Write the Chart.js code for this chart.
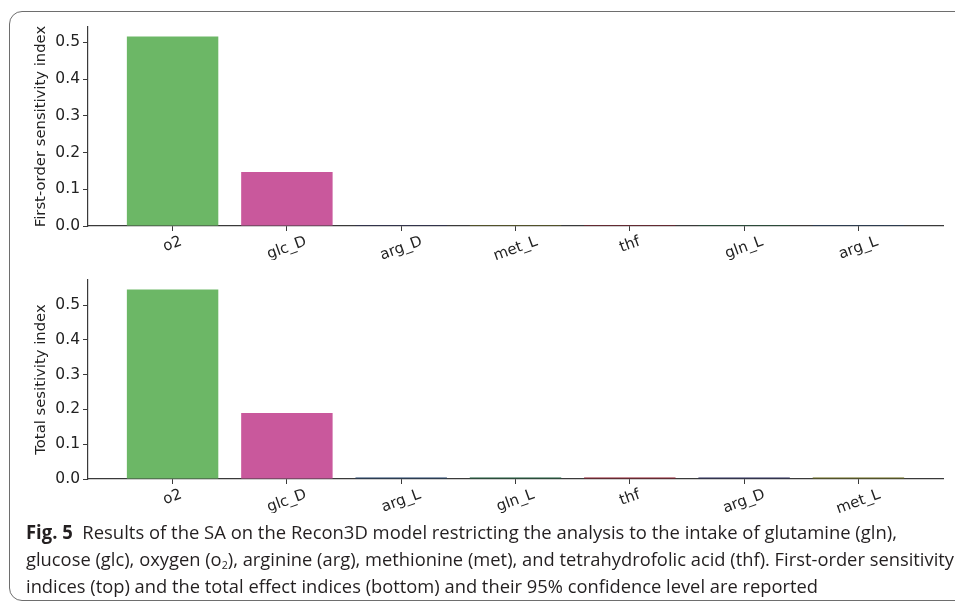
<!DOCTYPE html>
<html>
<head>
<meta charset="utf-8">
<script src="https://cdn.jsdelivr.net/npm/chart.js@4.4.1/dist/chart.umd.min.js"></script>
<style>
  html, body { margin: 0; padding: 0; background: #fff; }
  body { width: 955px; height: 607px; position: relative; overflow: hidden; }
  .frame { position: absolute; left: 9px; top: 11px; width: 980px; height: 590px;
           border: 1px solid #6e6e6e; border-radius: 13px; box-sizing: border-box; }
  .box { position: absolute; left: 0; width: 955px; height: 260px; }
  #top { top: 0; }
  #bottom { top: 253px; }
  .caption { position: absolute; left: 26px; top: 519px; font-family: "Open Sans", sans-serif;
             font-size: 19px; line-height: 27px; color: #231f20; white-space: nowrap; }
  .caption .ln { display: block; transform-origin: 0 0; width: max-content; }
  .caption b { font-weight: 700; }
  .caption sub { font-size: 11px; line-height: 0; vertical-align: -3px; }
</style>
</head>
<body>
<div class="frame"></div>
<div class="box" id="top"><canvas id="firstChart" width="955" height="260"></canvas></div>
<div class="box" id="bottom"><canvas id="totalChart" width="955" height="260"></canvas></div>
<div class="caption">
  <span class="ln" data-w="871"><b>Fig. 5</b>&nbsp; Results of the SA on the Recon3D model restricting the analysis to the intake of glutamine (gln),</span>
  <span class="ln" data-w="928">glucose (glc), oxygen (o<sub>2</sub>), arginine (arg), methionine (met), and tetrahydrofolic acid (thf). First-order sensitivity</span>
  <span class="ln" data-w="792">indices (top) and the total effect indices (bottom) and their 95% confidence level are reported</span>
</div>
<script>
// first-order indices (top panel)
var firstLabels = ['o2', 'glc_D', 'arg_D', 'met_L', 'thf', 'gln_L', 'arg_L'];
var firstValues = [0.516, 0.147, 0.0003, 0.0003, 0.0003, 0.0003, 0.0003];
var firstColors = ['#6cb766', '#c9589c', '#2a2c5c', '#6b6a1a', '#8b1a2b', '#1d5c3a', '#1f3f66'];

// total indices (bottom panel)
var totalLabels = ['o2', 'glc_D', 'arg_L', 'gln_L', 'thf', 'arg_D', 'met_L'];
var totalValues = [0.545, 0.190, 0.004, 0.004, 0.004, 0.004, 0.004];
var totalColors = ['#6cb766', '#c9589c', '#1f3f66', '#1d5c3a', '#8b1a2b', '#2a2c5c', '#6b6a1a'];

var yTicks = [0, 0.1, 0.2, 0.3, 0.4, 0.5];

var axisColor = '#3a3a3a';
var tickFont = { family: 'DejaVu Sans', size: 15.5 };

// matplotlib style x labels: rotated 20deg, centred under the tick
var rotatedLabels = {
    id: 'rotatedLabels',
    afterDraw: function (chart, args, opts) {
        var ctx = chart.ctx;
        var xs = chart.scales.x;
        var ang = 20 * Math.PI / 180;
        ctx.save();
        ctx.font = '15px "DejaVu Sans"';
        ctx.fillStyle = '#222';
        ctx.textAlign = 'center';
        ctx.textBaseline = 'middle';
        opts.labels.forEach(function (lab, i) {
            var w = ctx.measureText(lab).width;
            var h = 17.4;
            var bh = w * Math.sin(ang) + h * Math.cos(ang);
            var px = xs.getPixelForValue(i);
            var py = xs.top + 7 + bh / 2;
            ctx.save();
            ctx.translate(px, py);
            ctx.rotate(-ang);
            ctx.fillText(lab, 0, 0);
            ctx.restore();
        });
        ctx.restore();
    }
};

function makeChart(id, labels, values, colors, yMax, yTitle) {
    var ctx = document.getElementById(id).getContext('2d');
    return new Chart(ctx, {
        type: 'bar',
        data: {
            datasets: [{
                data: values.map(function (v, i) { return { x: i, y: v }; }),
                backgroundColor: colors,
                borderWidth: 0,
                barPercentage: 0.8,
                categoryPercentage: 1.0
            }]
        },
        options: {
            responsive: false,
            animation: false,
            layout: { padding: { top: 27, right: 12, left: 0, bottom: 0 } },
            plugins: {
                legend: { display: false },
                tooltip: { enabled: false },
                rotatedLabels: { labels: labels }
            },
            scales: {
                x: {
                    type: 'linear',
                    min: -0.74,
                    max: labels.length - 1 + 0.74,
                    offset: false,
                    grid: { offset: false, drawOnChartArea: false, drawTicks: true, tickLength: 5, color: axisColor, lineWidth: 1 },
                    border: { display: true, color: axisColor, width: 1.2 },
                    ticks: { display: false },
                    afterBuildTicks: function (scale) {
                        scale.ticks = labels.map(function (l, i) { return { value: i }; });
                    },
                    afterFit: function (scale) { scale.height = 34; }
                },
                y: {
                    min: 0,
                    max: yMax,
                    grid: { drawOnChartArea: false, drawTicks: true, tickLength: 5, color: axisColor, lineWidth: 1 },
                    border: { display: true, color: axisColor, width: 1.2 },
                    ticks: {
                        includeBounds: false,
                        padding: 3,
                        color: '#222',
                        font: tickFont,
                        callback: function (v) { return v.toFixed(1); }
                    },
                    afterBuildTicks: function (scale) {
                        scale.ticks = yTicks.map(function (v) { return { value: v }; });
                    },
                    title: {
                        display: true,
                        text: yTitle,
                        color: '#222',
                        font: { family: 'DejaVu Sans', size: 14.8 },
                        padding: { top: 32, bottom: 0 }
                    },
                    afterFit: function (scale) { scale.width = 88; }
                }
            }
        },
        plugins: [rotatedLabels]
    });
}

makeChart('firstChart', firstLabels, firstValues, firstColors, 0.542, 'First-order sensitivity index');
makeChart('totalChart', totalLabels, totalValues, totalColors, 0.572, 'Total sesitivity index');

// squeeze caption lines to the width they have in the figure
document.querySelectorAll('.caption .ln').forEach(function (el) {
    var target = parseFloat(el.getAttribute('data-w'));
    var w = el.getBoundingClientRect().width;
    el.style.transform = 'scaleX(' + (target / w) + ')';
});
</script>
</body>
</html>
